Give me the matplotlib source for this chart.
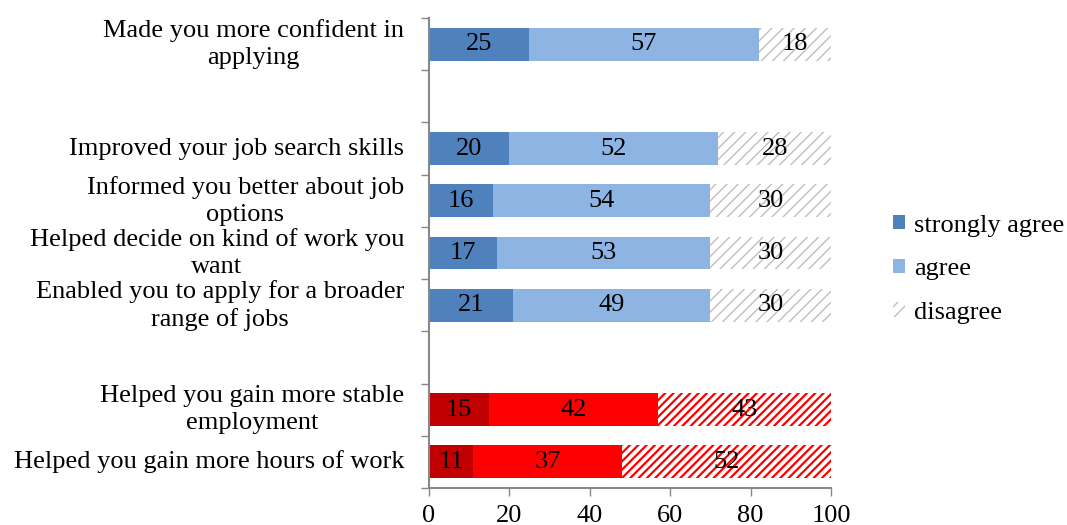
import numpy as np
import matplotlib.pyplot as plt

plt.rcParams['font.family'] = ['Liberation Serif', 'DejaVu Serif']
plt.rcParams['hatch.linewidth'] = 1.0

labels = ['Made you more confident in\napplying',
          'Improved your job search skills',
          'Informed you better about job\noptions',
          'Helped decide on kind of work you\nwant',
          'Enabled you to apply for a broader\nrange of jobs',
          'Helped you gain more stable\nemployment',
          'Helped you gain more hours of work']
strongly = [25, 20, 16, 17, 21, 15, 11]
agree = [57, 52, 54, 53, 49, 42, 37]
disagree = [18, 28, 30, 30, 30, 43, 52]
# slot index from the top, empty slots separate the groups
slots = [0, 2, 3, 4, 5, 7, 8]
n_slots = 9

blue_dark, blue_light = '#4F81BD', '#8EB4E3'
red_dark, red_light = '#C00000', '#FF0000'

fig = plt.figure(figsize=(10.67, 5.25), dpi=100)
ax = fig.add_axes([0.402, 0.0705, 0.3768, 0.8952])

y = np.array([n_slots - 1 - s for s in slots], dtype=float)
h = 0.63
fs = 19

for i in range(len(labels)):
    red = i >= 5
    c1 = red_dark if red else blue_dark
    c2 = red_light if red else blue_light
    hc = red_light if red else '#BFBFBF'
    b1 = ax.barh(y[i], strongly[i], height=h, color=c1, linewidth=0,
                 label='strongly agree' if i == 0 else None)
    b2 = ax.barh(y[i], agree[i], left=strongly[i], height=h, color=c2,
                 linewidth=0, label='agree' if i == 0 else None)
    b3 = ax.barh(y[i], disagree[i], left=strongly[i] + agree[i], height=h,
                 color='white', edgecolor=hc,
                 hatch='////' if red else '///', linewidth=0,
                 label='disagree' if i == 0 else None)
    if red:
        for p in b3:
            if hasattr(p, 'set_hatch_linewidth'):
                p.set_hatch_linewidth(1.6)
    for b in (b1, b2, b3):
        ax.bar_label(b, label_type='center', fontsize=fs, color='black')

ax.set_xlim(0, 100)
ax.set_ylim(-0.5, n_slots - 0.5)
ax.set_xticks(range(0, 101, 20))
ax.tick_params(axis='x', labelsize=fs, color='#888888', length=6, width=1,
               pad=6)

# category labels at bar centres, tick marks at slot boundaries
ax.set_yticks(np.arange(-0.5, n_slots, 1.0))
ax.set_yticklabels([])
ax.tick_params(axis='y', color='#888888', length=6, width=1)
for yy, lab in zip(y, labels):
    ax.text(-6.2, yy, lab, ha='right', va='center', fontsize=fs,
            multialignment='center', linespacing=1.3)

for s in ('top', 'right'):
    ax.spines[s].set_visible(False)
for s in ('left', 'bottom'):
    ax.spines[s].set_color('#888888')
    ax.spines[s].set_linewidth(1.5)

fig.legend(loc='center left', bbox_to_anchor=(0.837, 0.487), frameon=False,
           fontsize=fs, handlelength=0.45, handleheight=0.45,
           handletextpad=0.35, labelspacing=0.82, borderpad=0,
           borderaxespad=0)

fig.savefig('out.png', dpi=100)
